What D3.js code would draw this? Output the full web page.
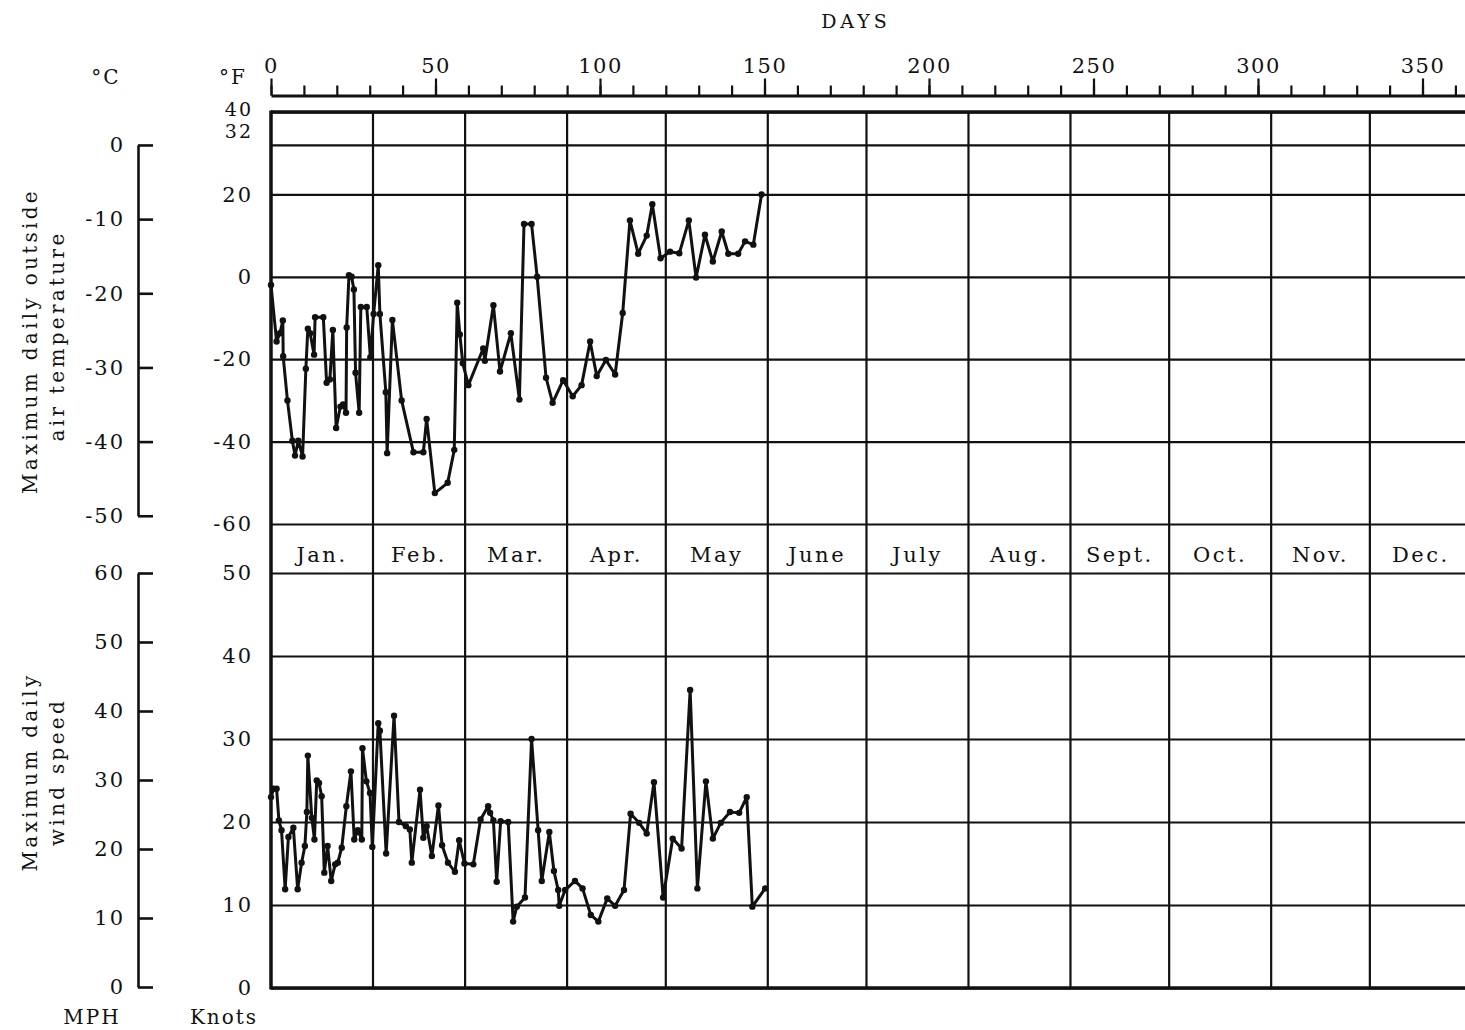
<!DOCTYPE html>
<html>
<head>
<meta charset="utf-8">
<script src="https://cdn.jsdelivr.net/npm/d3@7"></script>
<style>
  body { margin: 0; background: #fff; }
  text { font-family: "DejaVu Serif", serif; fill: #111; }
</style>
</head>
<body>
<div id="chart"></div>
<script>
// month labels and month-end day numbers
const months = ["Jan.", "Feb.", "Mar.", "Apr.", "May", "June", "July", "Aug.", "Sept.", "Oct.", "Nov.", "Dec."];
const monthEnds = [31, 59, 90, 120, 151, 181, 212, 243, 273, 304, 334, 365];
const dayTicks = [0, 50, 100, 150, 200, 250, 300, 350];

// tick values for the four scales
const tempTicksF = [40, 32, 20, 0, -20, -40, -60];
const celsiusTicks = [0, -10, -20, -30, -40, -50];
const knotTicks = [50, 40, 30, 20, 10, 0];
const mphTicks = [60, 50, 40, 30, 20, 10, 0];

// maximum daily outside air temperature (deg F)
const tempDays = [0, 1.7, 2.7, 3.6, 3.7, 5.0, 6.5, 7.3, 8.3, 9.6, 10.6, 11.2, 11.9, 13.1, 13.4,
  15.9, 16.9, 17.9, 18.8, 19.8, 21.1, 21.9, 22.8, 23.0, 23.7, 24.5, 25.2, 25.7, 26.8, 27.3,
  29.1, 30.2, 31.2, 32.6, 33.1, 34.9, 35.3, 36.9, 39.7, 43.3, 46.3, 47.3, 49.8, 53.7, 55.7,
  56.6, 57.4, 58.3, 60.0, 64.5, 65.0, 67.6, 69.6, 72.9, 75.5, 76.9, 79.2, 80.9, 83.6, 85.6,
  88.8, 91.7, 94.4, 97.0, 99.0, 101.8, 104.6, 106.9, 109.1, 111.6, 114.2, 115.9, 118.4, 121.3, 124.1,
  127.0, 129.2, 131.9, 134.3, 137.0, 139.0, 142.0, 144.1, 146.6, 149.1];
const tempF = [-2, -15.7, -13.7, -10.6, -19.3, -30, -39.8, -43.4, -39.8, -43.6, -22.3, -12.6, -13.7, -18.9, -9.8,
  -9.8, -25.7, -24.9, -12.9, -36.7, -31.5, -31, -33, -12.3, 0.4, 0, -3.1, -23.3, -33, -7.3,
  -7.3, -19.5, -9, 2.8, -9, -28, -42.8, -10.5, -30, -42.6, -42.6, -34.5, -52.5, -50, -42,
  -6.3, -14, -21, -26.3, -17.4, -20.4, -6.9, -23, -13.7, -29.8, 12.8, 12.8, 0, -24.5, -30.6,
  -25.1, -29, -26.3, -15.7, -24.1, -20.2, -23.7, -8.8, 13.7, 5.6, 10, 17.6, 4.5, 6.1, 5.7,
  13.7, -0.2, 10.2, 3.7, 11, 5.6, 5.6, 8.6, 7.8, 20];

// maximum daily wind speed (knots)
const windDays = [0, 0.8, 1.7, 2.4, 3.2, 4.3, 5.3, 6.8, 8.1, 9.3, 10.3, 10.9, 11.2, 12.4, 13.2,
  13.9, 14.6, 15.4, 16.2, 17.2, 18.3, 19.5, 20.3, 21.5, 22.9, 24.3, 25.3, 26.4, 27.6, 27.8,
  29.0, 30.1, 30.8, 32.6, 33.1, 35.0, 37.4, 38.9, 41.0, 42.2, 42.8, 45.3, 46.3, 47.3, 48.9,
  50.9, 52.0, 53.8, 55.9, 57.2, 58.8, 61.5, 63.7, 66.0, 66.6, 67.6, 68.6, 69.8, 72.1, 73.6,
  74.7, 77.2, 79.2, 81.2, 82.3, 84.6, 86.0, 87.3, 87.6, 89.4, 92.4, 94.7, 97.2, 99.5, 102.2,
  104.6, 107.3, 109.3, 111.9, 114.2, 116.4, 119.2, 122.1, 124.8, 127.4, 129.6, 132.2, 134.3, 136.7, 139.5,
  142.3, 144.6, 146.3, 150.2];
const windKnots = [23.0, 24.0, 24.0, 20.2, 19.0, 11.9, 18.2, 19.3, 11.9, 15.1, 17.1, 21.2, 28.0, 20.5, 17.9,
  25.0, 24.7, 23.1, 13.9, 17.1, 12.9, 14.9, 15.1, 16.9, 21.9, 26.1, 17.9, 19.0, 17.9, 28.9,
  24.9, 23.5, 17.0, 31.9, 31.0, 16.2, 32.8, 20.0, 19.5, 19.1, 15.1, 23.9, 18.1, 19.5, 15.9,
  22.0, 17.2, 15.1, 14.0, 17.8, 15.0, 14.9, 20.3, 21.9, 21.1, 20.2, 12.8, 20.1, 20.0, 8.0,
  9.8, 10.9, 30.0, 19.0, 12.9, 18.8, 14.1, 11.8, 9.9, 11.8, 12.9, 12.0, 8.8, 8.0, 10.8,
  9.9, 11.8, 21.0, 19.9, 18.6, 24.8, 10.9, 18.0, 16.8, 35.9, 12.0, 24.9, 18.0, 19.9, 21.2,
  21.1, 23.0, 9.8, 12.0];

const width = 1465;
const height = 1030;
const left = 271;
const fmt = d => String(d);

const temp = tempDays.map((d, i) => ({day: d, v: tempF[i]}));
const wind = windDays.map((d, i) => ({day: d, v: windKnots[i]}));

const x = d3.scaleLinear().domain([0, 365]).range([left, left + 365 * 3.29]);
const yT = d3.scaleLinear().domain([-60, 40]).range([524, 112]);
const yC = d3.scaleLinear().domain([-50, 0]).range([yT(-58), yT(32)]);
const yW = d3.scaleLinear().domain([0, 50]).range([988, 573]);
const yM = d3.scaleLinear().domain([0, 60]).range([987, 573]);

const svg = d3.select("#chart")
  .append("svg")
    .attr("width", width)
    .attr("height", height)
    .style("display", "block");

svg.append("rect").attr("width", width).attr("height", height).attr("fill", "#fff");

// DAYS axis on top
svg.append("text")
  .text("DAYS")
  .attr("x", 856).attr("y", 28)
  .attr("text-anchor", "middle")
  .style("font-size", "19px")
  .style("letter-spacing", "4px");

const minorAxis = svg.append("g")
  .attr("transform", "translate(0,95.5)")
  .call(d3.axisTop(x).tickValues(d3.range(0, 361, 10)).tickSize(10).tickSizeOuter(0).tickFormat(""));
const majorAxis = svg.append("g")
  .attr("transform", "translate(0,95.5)")
  .call(d3.axisTop(x).tickValues(dayTicks).tickSize(17).tickSizeOuter(0).tickPadding(6).tickFormat(fmt));
majorAxis.select(".domain").remove();
svg.selectAll(".tick line").attr("stroke", "#111").attr("stroke-width", 2.2);
minorAxis.select(".domain").attr("stroke", "#111").attr("stroke-width", 2.8);
majorAxis.selectAll("text")
  .style("font-size", "21px")
  .style("letter-spacing", "1.5px")
  .attr("font-family", null);

// horizontal grid lines with left labels
const gridW = width - left;
function grid(scale, ticks) {
  const g = svg.append("g")
    .attr("transform", `translate(${left},0)`)
    .call(d3.axisLeft(scale).tickValues(ticks).tickSizeInner(-gridW).tickSizeOuter(0).tickPadding(18).tickFormat(fmt));
  g.select(".domain").remove();
  g.selectAll(".tick line").attr("stroke", "#111").attr("stroke-width", 2.2);
  g.selectAll("text").style("font-size", "21px").style("letter-spacing", "2px");
  return g;
}
const tempGrid = grid(yT, tempTicksF);
tempGrid.selectAll(".tick text").filter(d => d === 40).attr("dy", "0.2em").style("font-size", "19px");
tempGrid.selectAll(".tick text").filter(d => d === 32).attr("dy", "-0.38em").style("font-size", "19px");
grid(yW, knotTicks);

// month lines and labels
svg.append("g").selectAll("line")
  .data(monthEnds.slice(0, 11))
  .enter()
    .append("line")
      .attr("x1", d => x(d)).attr("x2", d => x(d))
      .attr("y1", yT(40)).attr("y2", yW(0))
      .attr("stroke", "#111").attr("stroke-width", 2.2);

svg.append("g").selectAll("text")
  .data(months)
  .enter()
    .append("text")
      .text(d => d)
      .attr("x", (d, i) => x(((i ? monthEnds[i - 1] : 0) + monthEnds[i]) / 2))
      .attr("y", 562)
      .attr("text-anchor", "middle")
      .style("font-size", "21px")
      .style("letter-spacing", "2.5px");

// frame
svg.append("line").attr("x1", x(0)).attr("x2", x(0)).attr("y1", yT(40) - 1.5).attr("y2", yW(0) + 1.5)
  .attr("stroke", "#111").attr("stroke-width", 3.5);
svg.append("line").attr("x1", x(0)).attr("x2", width).attr("y1", yT(40)).attr("y2", yT(40))
  .attr("stroke", "#111").attr("stroke-width", 3.5);
svg.append("line").attr("x1", x(0)).attr("x2", width).attr("y1", yW(0)).attr("y2", yW(0))
  .attr("stroke", "#111").attr("stroke-width", 3.5);

// bracket axes on the far left (deg C and MPH)
function bracket(scale, ticks) {
  const g = svg.append("g")
    .attr("transform", "translate(138,0)")
    .call(d3.axisLeft(scale).tickValues(ticks).tickSizeInner(-15).tickSizeOuter(0).tickPadding(13).tickFormat(fmt));
  g.select(".domain").attr("stroke", "#111").attr("stroke-width", 2.6);
  g.selectAll(".tick line").attr("stroke", "#111").attr("stroke-width", 2.6);
  g.selectAll("text").style("font-size", "21px").style("letter-spacing", "2px");
}
bracket(yC, celsiusTicks);
bracket(yM, mphTicks);

// unit labels
const units = [["°C", 106, 84], ["°F", 233, 84], ["MPH", 92, 1024], ["Knots", 224, 1024]];
svg.append("g").selectAll("text")
  .data(units)
  .enter()
    .append("text")
      .text(d => d[0])
      .attr("x", d => d[1]).attr("y", d => d[2])
      .attr("text-anchor", "middle")
      .style("font-size", "20px")
      .style("letter-spacing", "2px");

// rotated titles
const titles = [["Maximum daily outside", 30, 341], ["air temperature", 57, 336],
                ["Maximum daily", 30, 772], ["wind speed", 57, 772]];
svg.append("g").selectAll("text")
  .data(titles)
  .enter()
    .append("text")
      .text(d => d[0])
      .attr("transform", d => `translate(${d[1]},${d[2]}) rotate(-90)`)
      .attr("dy", "0.35em")
      .attr("text-anchor", "middle")
      .style("font-size", "20px")
      .style("letter-spacing", "3.3px");

// data series
function series(data, y) {
  svg.append("path")
    .datum(data)
    .attr("fill", "none")
    .attr("stroke", "#111")
    .attr("stroke-width", 3)
    .attr("stroke-linejoin", "round")
    .attr("d", d3.line().x(d => x(d.day)).y(d => y(d.v)));
  svg.append("g").selectAll("circle")
    .data(data)
    .enter()
      .append("circle")
        .attr("cx", d => x(d.day))
        .attr("cy", d => y(d.v))
        .attr("r", 3.2)
        .attr("fill", "#111");
}
series(temp, yT);
series(wind, yW);
</script>
</body>
</html>
